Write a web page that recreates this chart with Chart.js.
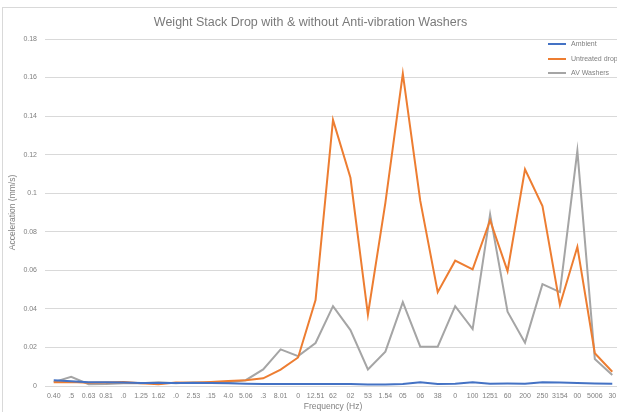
<!DOCTYPE html>
<html>
<head>
<meta charset="utf-8">
<script src="https://cdn.jsdelivr.net/npm/chart.js@4.4.0/dist/chart.umd.min.js"></script>
<style>
  html, body { margin: 0; padding: 0; background: #fff; overflow: hidden; width: 617px; height: 412px; }
  #frame { position: absolute; left: 2px; top: 7px; width: 700px; height: 500px; border: 1px solid #d9d9d9; box-sizing: border-box; }
  #wrap { position: absolute; left: 0; top: 0; width: 630px; height: 416px; }
  .leg { position: absolute; left: 548px; font: 7px "Liberation Sans", Arial, sans-serif; color: #808080; white-space: nowrap; }
  .leg span { display: inline-block; width: 18px; height: 2px; vertical-align: middle; margin-right: 5px; }
</style>
</head>
<body>
<div id="frame"></div>
<div id="wrap"><canvas id="chart" width="630" height="416"></canvas></div>
<div class="leg" style="top:40px"><span style="background:#4472C4"></span>Ambient</div>
<div class="leg" style="top:55px"><span style="background:#ED7D31"></span>Untreated drop</div>
<div class="leg" style="top:69px"><span style="background:#A5A5A5"></span>AV Washers</div>
<script>
// Data
const freqLabels = ['0.40', '.5', '0.63', '0.81', '.0', '1.25', '1.62', '.0', '2.53', '.15', '4.0',
  '5.06', '.3', '8.01', '0', '12.51', '62', '02', '53', '1.54', '05', '06', '38', '0', '100',
  '1251', '60', '200', '250', '3154', '00', '5006', '30'];

const ambient = [0.003, 0.0025, 0.002, 0.002, 0.0018, 0.0016, 0.0015, 0.0015, 0.0015, 0.0015,
  0.0014, 0.0012, 0.001, 0.001, 0.001, 0.001, 0.001, 0.001, 0.0008, 0.0008, 0.001, 0.002,
  0.001, 0.0012, 0.002, 0.0012, 0.0013, 0.0012, 0.002, 0.0018, 0.0015, 0.0013, 0.0012];

const untreated = [0.002, 0.0021, 0.0017, 0.0018, 0.0021, 0.0014, 0.0009, 0.0018, 0.0017, 0.0021,
  0.0026, 0.003, 0.004, 0.0085, 0.0148, 0.0446, 0.138, 0.108, 0.037, 0.095, 0.162, 0.096,
  0.0487, 0.065, 0.0605, 0.086, 0.0596, 0.1124, 0.0934, 0.042, 0.0722, 0.017, 0.0074];

const avWashers = [0.002, 0.0048, 0.0009, 0.001, 0.0014, 0.0014, 0.002, 0.0014, 0.002, 0.0017,
  0.002, 0.003, 0.0086, 0.019, 0.0155, 0.0223, 0.0414, 0.029, 0.0086, 0.0178, 0.0435, 0.0204,
  0.0204, 0.0414, 0.0295, 0.089, 0.0385, 0.0225, 0.0528, 0.0487, 0.122, 0.014, 0.0057];

const tickColor = '#808080';
const baseFont = '"Liberation Sans", Arial, sans-serif';

function series(label, data, color) {
  return {
    label: label,
    data: data,
    borderColor: color,
    backgroundColor: color,
    borderWidth: 2,
    pointRadius: 0,
    tension: 0,
    fill: false
  };
}

const ctx = document.getElementById('chart').getContext('2d');
new Chart(ctx, {
  type: 'line',
  data: {
    labels: freqLabels,
    datasets: [
      series('Ambient', ambient, '#4472C4'),
      series('Untreated drop', untreated, '#ED7D31'),
      series('AV Washers', avWashers, '#A5A5A5')
    ]
  },
  options: {
    responsive: false,
    animation: false,
    layout: { padding: { top: 11, left: 0, right: 9, bottom: 0 } },
    plugins: {
      legend: { display: false },
      tooltip: { enabled: false },
      title: {
        display: true,
        text: 'Weight Stack Drop with & without Anti-vibration Washers',
        color: '#7a7a7a',
        font: { family: baseFont, size: 12.5, weight: 'normal', lineHeight: 1.2 },
        padding: { top: 4, bottom: 9 }
      }
    },
    scales: {
      x: {
        offset: true,
        grid: { display: false, drawTicks: false },
        border: { display: false },
        ticks: {
          color: tickColor,
          font: { family: baseFont, size: 7 },
          maxRotation: 0,
          autoSkip: false,
          padding: 6
        },
        title: {
          display: true,
          text: 'Frequency (Hz)',
          color: tickColor,
          font: { family: baseFont, size: 8.5 },
          padding: { top: 2, bottom: 4 }
        },
        afterFit: (scale) => { scale.height = 30; }
      },
      y: {
        min: 0,
        max: 0.18,
        grid: { color: '#d9d9d9', lineWidth: 1, drawTicks: false },
        border: { display: false },
        ticks: {
          stepSize: 0.02,
          color: tickColor,
          font: { family: baseFont, size: 7 },
          padding: 8,
          callback: (v) => String(+v.toFixed(2))
        },
        title: {
          display: true,
          text: 'Acceleration (mm/s)',
          color: tickColor,
          font: { family: baseFont, size: 8.5 },
          padding: { top: 8, bottom: 0 }
        },
        afterFit: (scale) => { scale.width = 45; }
      }
    }
  }
});
</script>
</body>
</html>
